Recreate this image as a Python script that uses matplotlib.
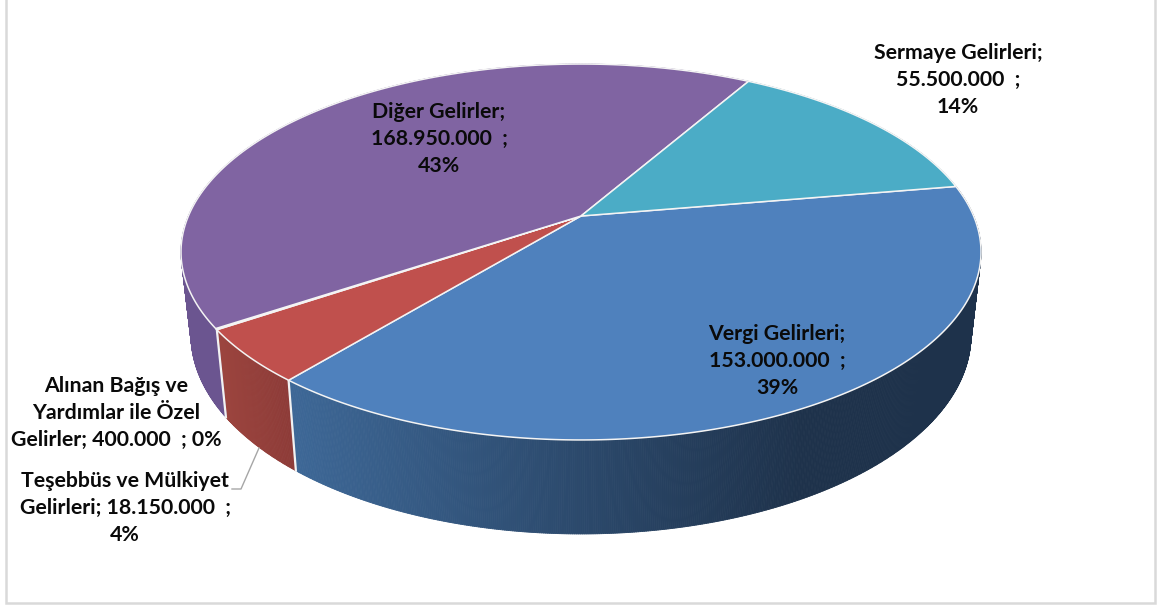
import numpy as np
import matplotlib
matplotlib.use('Agg')
import matplotlib.pyplot as plt
from matplotlib.collections import PolyCollection

# dilimler, saat yonunde
names = ['Vergi Gelirleri', 'Teşebbüs ve Mülkiyet Gelirleri', 'Alınan Bağış ve Yardımlar ile Özel Gelirler', 'Diğer Gelirler', 'Sermaye Gelirleri']
values = [153000000, 18150000, 400000, 168950000, 55500000]
top_colors = ['#4f81bd', '#c0504d', '#f2f2f2', '#8064a2', '#4bacc6']
labels = [
    'Vergi Gelirleri;\n153.000.000  ;\n39%',
    'Teşebbüs ve Mülkiyet\nGelirleri; 18.150.000  ;\n4%',
    'Alınan Bağış ve\nYardımlar ile Özel\nGelirler; 400.000  ; 0%',
    'Diğer Gelirler;\n168.950.000  ;\n43%',
    'Sermaye Gelirleri;\n55.500.000  ;\n14%',
]
label_pos = [(777, 361), (125, 508), (116, 413), (439, 139), (958, 80)]

# duvar renkleri: (sol x, sol renk, sag x, sag renk)
wall_colors = [
    (298, (61, 103, 150), 800, (30, 50, 75)),
    (226, (155, 68, 62), 298, (140, 58, 55)),
    (220, (107, 85, 144), 226, (107, 85, 144)),
    (180, (107, 85, 144), 226, (107, 85, 144)),
    (800, (74, 150, 172), 960, (60, 130, 150)),
]

start_angle = 9.7
apex_x, apex_y = 581, 216
top_cy, top_ry, top_rx = 252, 188, 400
bot_cy, bot_ry, bot_rx = 335, 199, 390
b = 0.1915
p = -139.7
A = top_rx * np.sqrt(1 - b ** 2)


def rim(ang):
    # daire -> perspektif elips
    u = np.cos(np.radians(ang))
    v = np.sin(np.radians(ang))
    x = apex_x + A * u / (1 + b * v)
    y = (p * v + apex_y) / (1 + b * v)
    return x, y


def rim_bottom(x, y):
    x2 = apex_x + (x - apex_x) / top_rx * bot_rx
    y2 = bot_cy + (y - top_cy) / top_ry * bot_ry
    return x2, y2


fig = plt.figure(figsize=(11.6, 6.06), dpi=100)
ax = fig.add_axes([0, 0, 1, 1])
ax.set_xlim(0, 1160)
ax.set_ylim(606, 0)
ax.axis('off')

# cerceve
ax.plot([6, 6, 1154.5, 1154.5], [0, 602.5, 602.5, 0], color='#d9d9d9', lw=1.8, solid_joinstyle='miter', zorder=1)

sweep = np.array(values) / sum(values) * 360
a0 = start_angle
edges = []
for i in range(len(values)):
    edges.append((a0, a0 - sweep[i]))
    a0 = a0 - sweep[i]

# yan duvarlar
for i, (a1, a2) in enumerate(edges):
    n = max(int(abs(a1 - a2) * 4), 2)
    ang = np.linspace(a1, a2, n)
    x, y = rim(ang)
    x2, y2 = rim_bottom(x, y)
    polys = []
    cols = []
    xl, cl, xr, cr = wall_colors[i]
    for k in range(n - 1):
        polys.append([(x[k], y[k]), (x[k + 1], y[k + 1]), (x2[k + 1], y2[k + 1]), (x2[k], y2[k])])
        t = np.clip(((x[k] + x2[k]) / 2 - xl) / (xr - xl), 0, 1)
        cols.append([(cl[j] + (cr[j] - cl[j]) * t) / 255 for j in range(3)])
    ax.add_collection(PolyCollection(polys, facecolors=cols, edgecolors=cols, linewidths=0.6, zorder=2))

# duvar ayrim cizgileri
for a1, a2 in edges[:2]:
    x, y = rim(a2)
    x2, y2 = rim_bottom(x, y)
    ax.plot([x, x2], [y, y2], color='#f2f2f2', lw=1.6, zorder=3)

# ust yuzey
for i, (a1, a2) in enumerate(edges):
    n = max(int(abs(a1 - a2) * 4), 2)
    x, y = rim(np.linspace(a1, a2, n))
    ax.fill(np.r_[apex_x, x], np.r_[apex_y, y], facecolor=top_colors[i], edgecolor='#f4f4f4', lw=1.1, zorder=4)

# Tesebbus etiketi icin kilavuz cizgi
ax.plot([259, 241, 232], [448, 489, 489], color='#a6a6a6', lw=1, zorder=3)

for txt, (tx, ty) in zip(labels, label_pos):
    ax.text(tx, ty, txt, ha='center', va='center', fontsize=15.3, fontweight='bold',
            family=['Lato', 'DejaVu Sans'], color='#0a0a0a', linespacing=1.41, zorder=6)

plt.savefig('out.png', dpi=100)
